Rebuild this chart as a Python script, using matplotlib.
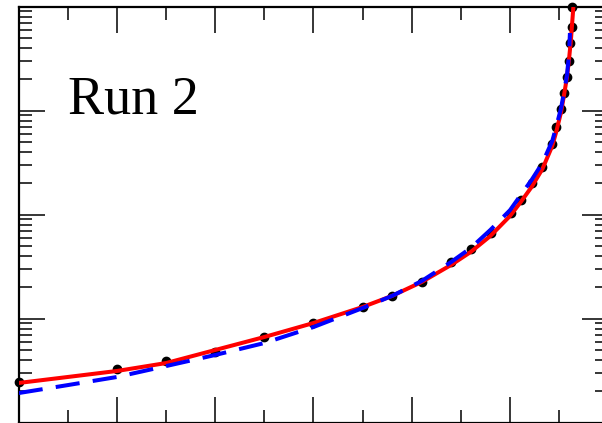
import matplotlib
matplotlib.use("Agg")
import matplotlib.pyplot as plt
from matplotlib.ticker import MultipleLocator, LogLocator, NullFormatter

# data points (black dots)
pts_x = [0.0, 1.0, 1.5, 2.0, 2.5, 3.0, 3.5, 3.8, 4.1, 4.4, 4.6, 4.81, 5.01, 5.11,
         5.22, 5.33, 5.43, 5.47, 5.52, 5.55, 5.58, 5.60, 5.61, 5.63, 5.635]
pts_y = [2.45, 3.27, 3.90, 4.76, 6.64, 9.06, 12.9, 16.4, 22.4, 34.9, 46.6, 66.4,
         103, 138, 201, 286, 476, 693, 1033, 1472, 2099, 2992, 4457, 6353, 10000]

# red solid fit
red_x = [0.0, 0.5, 1.0, 1.5, 2.0, 2.5, 3.0, 3.5, 3.8, 4.1, 4.4, 4.6, 4.8, 5.0, 5.11,
         5.22, 5.33, 5.43, 5.47, 5.52, 5.55, 5.58, 5.60, 5.62, 5.635, 5.645]
red_y = [2.40, 2.74, 3.13, 3.73, 4.98, 6.64, 9.05, 12.9, 16.5, 22.4, 32.7, 43.6, 62.1,
         96.7, 132, 184, 274, 456, 621, 967, 1409, 2099, 3059, 4764, 7418, 9890]

# blue dashed fit
blue_x = [0.0, 0.5, 1.0, 1.5, 2.0, 2.5, 3.0, 3.5, 3.8, 4.1, 4.4, 4.6, 4.8, 5.0, 5.11,
          5.22, 5.33, 5.43, 5.47, 5.52, 5.55, 5.58, 5.60, 5.61]
blue_y = [1.92, 2.29, 2.74, 3.49, 4.46, 5.81, 8.28, 12.6, 16.5, 22.9, 34.9, 47.6, 71.0,
          110, 154, 215, 313, 509, 694, 1057, 1506, 2194, 3417, 5562]

label_text = 'Run 2'

fig = plt.figure(figsize=(6.02, 4.23), dpi=100)
ax = fig.add_axes([18.75 / 602, 0.5 / 423, 589.5 / 602, 416 / 423])

ax.plot(pts_x, pts_y, 'o', color='black', markersize=6, clip_on=False, zorder=2)
ax.plot(red_x, red_y, '-', color='#ff0000', linewidth=2.9, zorder=3, solid_capstyle='butt')
ax.plot(blue_x, blue_y, '--', color='#0000ff', linewidth=2.9, dashes=(6, 3.3), zorder=4)

ax.set_yscale('log')
ax.set_xlim(0, 6)
ax.set_ylim(1, 1e4)

ax.xaxis.set_major_locator(MultipleLocator(1))
ax.xaxis.set_minor_locator(MultipleLocator(0.5))
ax.yaxis.set_major_locator(LogLocator(base=10, numticks=10))
ax.yaxis.set_minor_locator(LogLocator(base=10, subs=range(2, 10), numticks=20))
ax.xaxis.set_major_formatter(NullFormatter())
ax.xaxis.set_minor_formatter(NullFormatter())
ax.yaxis.set_major_formatter(NullFormatter())
ax.yaxis.set_minor_formatter(NullFormatter())

ax.tick_params(which='both', direction='in', top=True, right=True, width=1.1, colors='black')
ax.tick_params(which='major', length=18.5)
ax.tick_params(which='minor', length=9.3)
for s in ax.spines.values():
    s.set_linewidth(1.6)

ax.text(0.5, 946, label_text, family=['Liberation Serif', 'DejaVu Serif'], fontsize=39,
        ha='left', va='baseline')

fig.savefig('out.png', dpi=100)
